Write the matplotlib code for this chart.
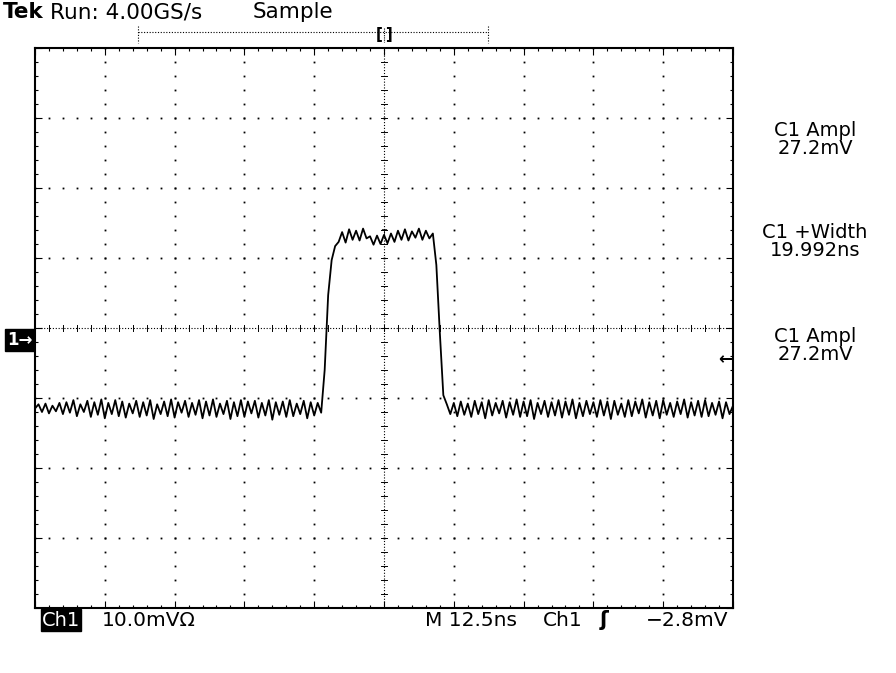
"""
Tek oscilloscope screen capture: single pulse on Ch1.
"""
import matplotlib
matplotlib.use("Agg")
import matplotlib.pyplot as plt
import numpy as np
from matplotlib.lines import Line2D

# --- scope settings ---
time_per_div = 12.5      # ns
volts_per_div = 10.0     # mV
center_mv = 1.7          # screen centre relative to Ch1 ground
trigger_mv = -2.8

# --- trace (mV), sampled every 0.625 ns over the 10 divisions ---
left_base = [
    -9.8, -9.2, -10.3, -9.1, -10.5, -9.4, -10.2, -9.0, -10.6, -8.9,
    -10.4, -8.6, -10.9, -9.2, -10.3, -8.7, -11.0, -8.9, -10.7, -8.5,
    -11.2, -9.0, -10.6, -8.6, -10.9, -8.8, -11.1, -9.1, -10.5, -8.7,
    -11.0, -8.9, -10.8, -8.6, -11.3, -9.2, -10.6, -8.8, -10.9, -8.5,
    -11.1, -8.9, -10.4, -8.7, -11.0, -9.0, -10.7, -8.6, -11.2, -8.8,
    -10.8, -8.5, -11.0, -9.1, -10.6, -8.7, -11.3, -8.9, -10.9, -8.6,
    -11.0, -8.8, -10.5, -8.7, -11.1, -9.0, -10.8, -8.6, -11.4, -8.9,
    -10.7, -8.8, -11.0, -8.6, -10.9, -9.1, -10.6, -8.7, -11.2, -8.9,
    -10.8, -9.0, -10.4,
]
rise_edge = [-4.3, 6.4, 11.4, 13.4]
pulse_top = [
    14.0, 15.4, 13.9, 15.8, 14.3, 15.6, 14.2, 15.9, 14.5, 14.8,
    13.6, 14.9, 13.7, 15.0, 13.8, 15.2, 14.0, 15.6, 14.3, 15.8,
    14.2, 15.5, 14.6, 15.9, 14.3, 15.6, 14.5, 15.2,
]
fall_edge = [10.7, 1.0, -7.9]
right_base = [
    -9.2, -10.6, -9.0, -10.9, -8.8, -10.7, -9.1, -11.0, -8.7, -10.6,
    -8.9, -11.2, -8.6, -10.8, -9.0, -10.5, -8.7, -11.1, -8.9, -10.7,
    -8.5, -11.0, -8.8, -10.9, -8.6, -11.3, -9.0, -10.6, -8.7, -11.0,
    -8.9, -10.8, -8.6, -11.1, -8.8, -10.7, -8.5, -11.2, -9.0, -10.9,
    -8.7, -10.6, -8.9, -11.0, -8.6, -10.8, -8.8, -11.3, -8.7, -10.7,
    -9.1, -11.0, -8.6, -10.9, -8.8, -10.5, -8.5, -11.1, -8.9, -10.8,
    -8.7, -11.2, -8.6, -10.7, -9.0, -11.0, -8.8, -10.6, -8.5, -11.1,
    -8.9, -10.8, -8.7, -11.0, -8.6, -10.9, -9.0, -10.7, -8.8, -11.2,
    -8.9, -10.6, -9.4,
]

# --- readouts ---
top_label = "Run: 4.00GS/s"
mode_label = "Sample"
measurements = [("C1 Ampl", "27.2mV"), ("C1 +Width", "19.992ns"), ("C1 Ampl", "27.2mV")]
ch_scale_label = "10.0mV\u03a9"
timebase_label = "M 12.5ns"
trig_level_label = "\u22122.8mV"

trace = np.array(left_base + rise_edge + pulse_top + fall_edge + right_base)
t_ns = np.linspace(-5 * time_per_div, 5 * time_per_div, len(trace))

W, H = 896, 673
fig = plt.figure(figsize=(W / 100, H / 100), dpi=100)
plt.rcParams['font.family'] = ['DejaVu Sans']


def px(x, y):
    """pixel position -> figure fraction"""
    return x / W, 1 - y / H


# screen area: x 35..733, y 48..608 in pixels
ax = fig.add_axes([35 / W, 1 - 608 / H, 698 / W, 560 / H])
xmin, xmax = -5 * time_per_div, 5 * time_per_div
ymin, ymax = center_mv - 4 * volts_per_div, center_mv + 4 * volts_per_div
ax.set_xlim(xmin, xmax)
ax.set_ylim(ymin, ymax)

x_major = xmin + time_per_div * np.arange(11)
y_major = ymin + volts_per_div * np.arange(9)
x_minor = xmin + time_per_div / 5 * np.arange(51)
y_minor = ymin + volts_per_div / 5 * np.arange(41)

# --- graticule: dotted division lines ---
for xv in x_major[1:-1]:
    if abs(xv) < 1e-9:
        continue
    ax.plot(np.full_like(y_minor, xv), y_minor, 's', color='black', ms=1.3, mew=0)
for yv in y_major[1:-1]:
    if abs(yv - center_mv) < 1e-9:
        continue
    ax.plot(x_minor, np.full_like(x_minor, yv), 's', color='black', ms=1.3, mew=0)

# centre lines with cross ticks
ax.axvline(0, color='black', lw=0.8, ls=(0, (1, 1.6)))
ax.axhline(center_mv, color='black', lw=0.8, ls=(0, (1, 1.6)))
dx = 0.5
dy = 0.45
for yv in y_minor:
    ax.plot([-dx, dx], [yv, yv], color='black', lw=0.7)
for xv in x_minor:
    ax.plot([xv, xv], [center_mv - dy, center_mv + dy], color='black', lw=0.7)

# border ticks
ax.set_xticks(x_major)
ax.set_yticks(y_major)
ax.set_xticks(x_minor, minor=True)
ax.set_yticks(y_minor, minor=True)
ax.tick_params(which='both', direction='in', top=True, right=True,
               labelbottom=False, labelleft=False, width=0.8, color='black')
ax.tick_params(which='major', length=5)
ax.tick_params(which='minor', length=2.5)
for s in ax.spines.values():
    s.set_linewidth(1.5)

# --- trace ---
ax.plot(t_ns, trace, color='black', lw=1.3)

# trigger point marker on the trace
ax.text(0, 15.2, "T", fontsize=6, ha='center', va='center', color='black')

# ground marker and trigger level arrow
ax.text(-0.004, 0, "1\u2192", transform=ax.get_yaxis_transform(), ha='right', va='center',
        fontsize=12, fontweight='bold', color='white',
        bbox=dict(boxstyle='square,pad=0.12', fc='black', ec='black'))
ax.text(0.998, trigger_mv, "\u2190", transform=ax.get_yaxis_transform(), ha='right', va='center',
        fontsize=12, fontweight='bold', color='black')

# --- record / trigger position bar above the screen ---
x0, y0 = px(138, 32)
x1, _ = px(488, 32)
fig.add_artist(Line2D([x0, x1], [y0, y0], color='black', lw=0.8, ls=(0, (1, 1.5))))
for xx in (x0, x1):
    fig.add_artist(Line2D([xx, xx], [px(0, 26)[1], px(0, 43)[1]], color='black', lw=0.8, ls=(0, (1, 1.5))))
fig.text(*px(384, 34), "[\u2009]", fontsize=11, fontweight='bold', ha='center', va='center')
fig.add_artist(Line2D([px(384, 0)[0]] * 2, [px(0, 28)[1], px(0, 42)[1]], color='black', lw=0.8, ls=(0, (1, 1))))

# --- top readout ---
fig.text(*px(3, 12), "Tek", fontsize=15.5, fontweight='bold', ha='left', va='center')
fig.text(*px(50, 12), top_label, fontsize=15.5, ha='left', va='center')
fig.text(*px(253, 12), mode_label, fontsize=15.5, ha='left', va='center')

# --- measurement readouts on the right ---
for (name, value), yc in zip(measurements, [130, 233, 337]):
    fig.text(*px(815, yc), name, fontsize=14, ha='center', va='center')
    fig.text(*px(815, yc + 18), value, fontsize=14, ha='center', va='center')

# --- bottom readout ---
fig.text(*px(42, 620), "Ch1", fontsize=14, color='white', ha='left', va='center',
         bbox=dict(boxstyle='square,pad=0.06', fc='black', ec='black'))
fig.text(*px(102, 620), ch_scale_label, fontsize=14.5, ha='left', va='center')
fig.text(*px(425, 620), timebase_label, fontsize=14.5, ha='left', va='center')
fig.text(*px(543, 620), "Ch1", fontsize=14.5, ha='left', va='center')
fig.text(*px(604, 620), "\u0283", fontsize=15, fontweight='bold', ha='center', va='center')
fig.text(*px(728, 620), trig_level_label, fontsize=14.5, ha='right', va='center')

fig.savefig("out.png", dpi=100, facecolor='white')
